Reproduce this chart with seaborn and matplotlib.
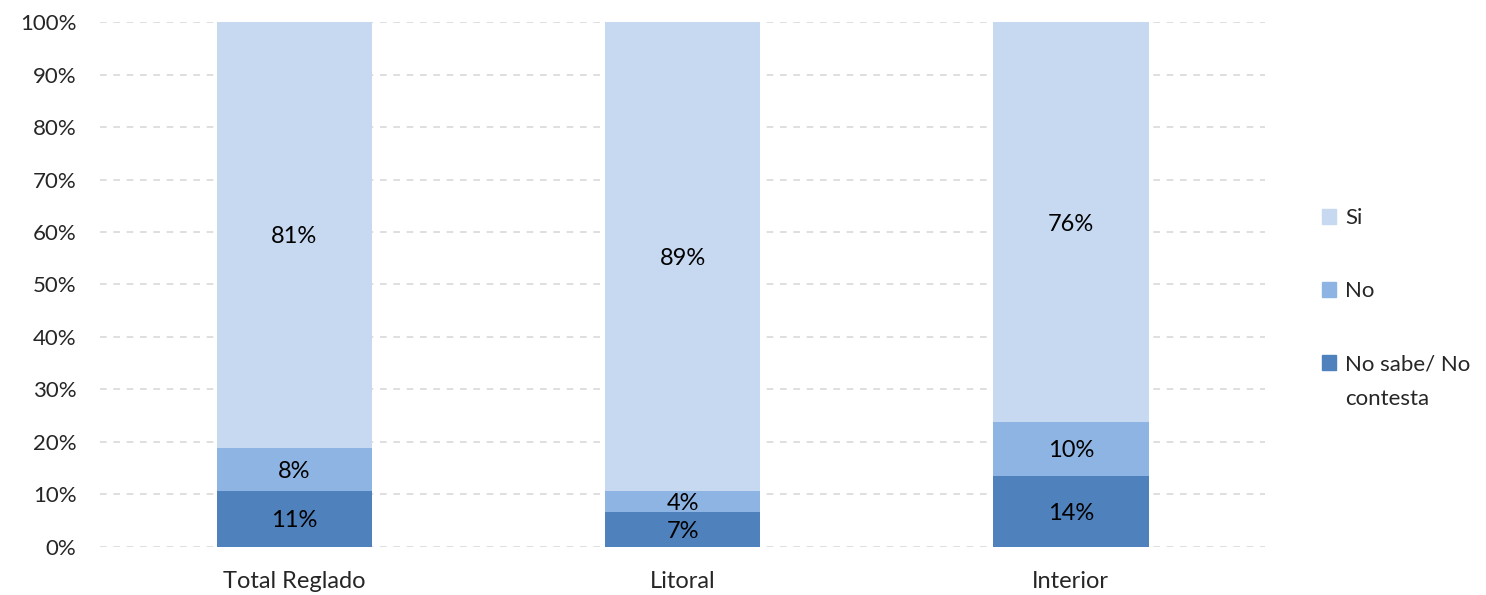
import pandas as pd
import matplotlib.pyplot as plt
import seaborn as sns
from matplotlib.patches import Patch


categories = ["Total Reglado", "Litoral", "Interior"]
no_sabe = [10.7, 6.6, 13.6]
no = [8.2, 4.1, 10.2]
si = [81.1, 89.3, 76.2]

series_names = ["Si", "No", "No sabe/ No"]
series_extra = "contesta"
colors = {"Si": "#C6D9F1", "No": "#8EB4E3", "NS": "#4F81BD"}


def build_frame():
    """Cumulative heights so the stacked bars can be overlaid."""
    df = pd.DataFrame({"categoria": categories, "ns": no_sabe, "no": no, "si": si})
    df["cum_ns"] = df["ns"]
    df["cum_no"] = df["ns"] + df["no"]
    df["cum_si"] = df["cum_no"] + df["si"]
    return df


def draw_chart(df):
    sns.set_style("white")
    plt.rcParams["font.family"] = ["Lato", "DejaVu Sans"]

    fig = plt.figure(figsize=(14.86, 5.95), dpi=100)
    ax = fig.add_axes([0.0673, 0.0807, 0.7840, 0.8823])

    for col, key in [("cum_si", "Si"), ("cum_no", "No"), ("cum_ns", "NS")]:
        sns.barplot(data=df, x="categoria", y=col, color=colors[key],
                    width=0.40, saturation=1, linewidth=0, ax=ax, zorder=3)

    # segment labels
    for i, row in df.iterrows():
        segs = [(0, row["ns"]), (row["cum_ns"], row["no"]), (row["cum_no"], row["si"])]
        for base, val in segs:
            ax.text(i, base + val / 2, f"{round(val):.0f}%", ha="center",
                    va="center_baseline", fontsize=17, color="black", zorder=4)

    ax.set_ylim(0, 100)
    ax.set_xlim(-0.5, 2.5)
    ax.set_yticks(range(0, 101, 10))
    ax.set_yticklabels([f"{v}%" for v in range(0, 101, 10)])
    ax.yaxis.grid(True, linestyle=(0, (4, 4)), color="#D9D9D9", linewidth=1.2, zorder=0)
    ax.set_axisbelow(True)
    ax.tick_params(axis="y", length=0, pad=17, labelsize=16)
    ax.tick_params(axis="x", length=0, pad=17, labelsize=17)
    ax.set_xlabel("")
    ax.set_ylabel("")
    sns.despine(ax=ax, left=True, bottom=True)

    handles = [Patch(color=colors["Si"]), Patch(color=colors["No"]), Patch(color=colors["NS"])]
    leg = fig.legend(handles, series_names, loc="upper left", bbox_to_anchor=(0.876, 0.684),
                     frameon=False, fontsize=16, handlelength=0.65, handleheight=0.65,
                     handletextpad=0.4, labelspacing=2.4)

    # second line of the last legend label, placed under the first one
    fig.canvas.draw()
    bb = leg.get_texts()[2].get_window_extent().transformed(fig.transFigure.inverted())
    fig.text(bb.x0, bb.y0 - 0.058, series_extra, fontsize=16, ha="left", va="bottom")

    fig.savefig("out.png", dpi=100)
    plt.close(fig)


if __name__ == "__main__":
    draw_chart(build_frame())
